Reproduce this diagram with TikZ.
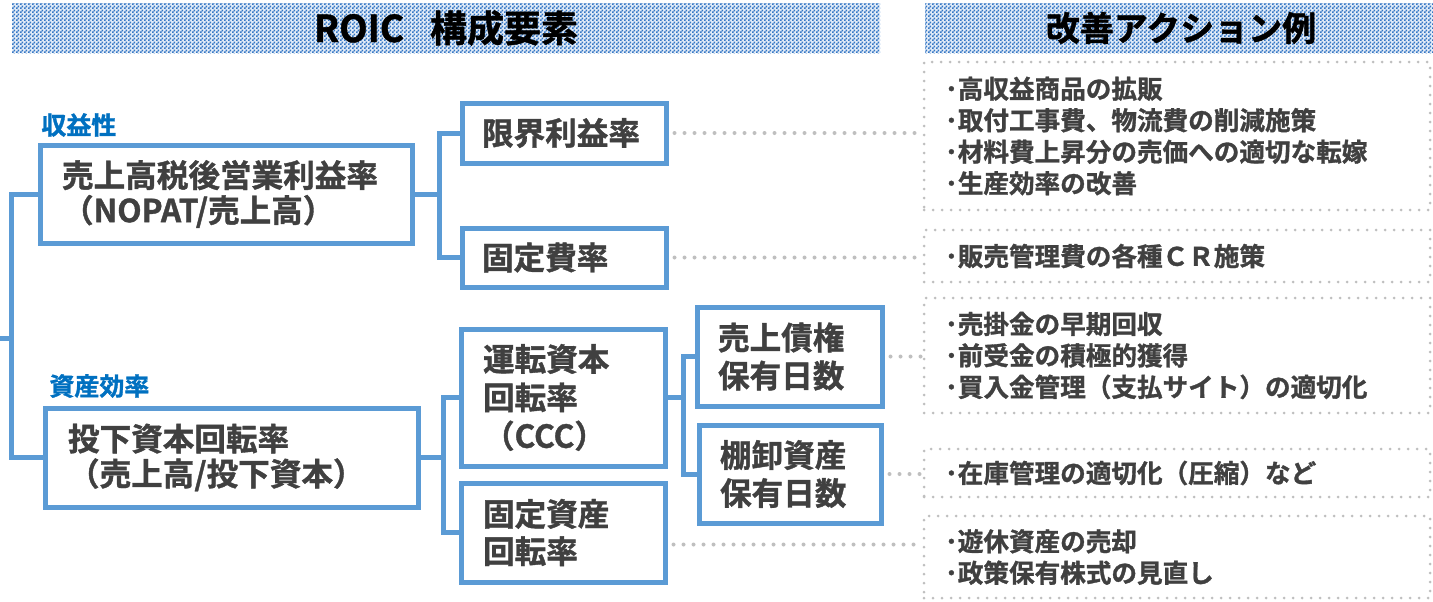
\documentclass[tikz,border=0pt]{standalone}
\usepackage{fontspec}
\setmainfont{Noto Sans CJK JP}[BoldFont={Noto Sans CJK JP Bold}, BoldFeatures={FakeBold=1.2}]
\usetikzlibrary{patterns}
\pgfdeclarepatternformonly{chk}{\pgfpointorigin}{\pgfpoint{2pt}{2pt}}{\pgfpoint{2pt}{2pt}}{%
 \pgfpathrectangle{\pgfpointorigin}{\pgfpoint{1pt}{1pt}}%
 \pgfpathrectangle{\pgfpoint{1pt}{1pt}}{\pgfpoint{1pt}{1pt}}%
 \pgfusepath{fill}}
\definecolor{boxblue}{RGB}{91,155,213}
\definecolor{labelblue}{RGB}{0,112,192}
\definecolor{textgray}{RGB}{64,64,64}
\definecolor{dotgray}{RGB}{191,191,191}
\definecolor{chkblue}{RGB}{52,118,196}
\definecolor{chkbase}{RGB}{225,235,247}
\tikzset{
 bbox/.style={draw=boxblue, line width=2.5pt, fill=white, align=left, inner ysep=0pt, text=textgray, font=\bfseries\fontsize{15.8pt}{17.5pt}\selectfont},
 conn/.style={draw=boxblue, line width=2.5pt},
 dotc/.style={draw=dotgray, line width=2pt, dash pattern=on 0pt off 5pt, line cap=round},
 actbox/.style={draw=dotgray, line width=1.5pt, dash pattern=on 0pt off 4.5pt, line cap=round, align=left, text=textgray, font=\bfseries\fontsize{12.8pt}{15.75pt}\selectfont, inner ysep=0pt, inner xsep=10.5pt, text width=232pt, minimum width=253pt},
 banner/.style={pattern=chk, pattern color=chkblue, draw=none},
 bantext/.style={font=\bfseries\fontsize{17pt}{19pt}\selectfont, text=black},
 lab/.style={font=\bfseries\fontsize{12.5pt}{14pt}\selectfont, text=labelblue, anchor=west, inner sep=0pt},
}
\begin{document}
\begin{tikzpicture}[x=0.5pt,y=-0.5pt]
\useasboundingbox (0,0) rectangle (1433,601);
% banners
\fill[chkbase] (12,3) rectangle (880,53);
\fill[chkbase] (925,3) rectangle (1433,53);
\path[banner] (12,3) rectangle (880,53);
\path[banner] (925,3) rectangle (1433,53);
\node[bantext, font=\bfseries\fontsize{18.5pt}{20pt}\selectfont] (t1) at (446,28) {ROIC\hspace{0.7em}構成要素};
\node[bantext] (t2) at (1181,28) {改善アクション例};
% labels
\node[lab] (l1) at (41,125) {収益性};
\node[lab] (l2) at (49,386) {資産効率};
% boxes
\node[bbox, text width=164pt, inner xsep=11pt, minimum height=49pt] (A) at (226,194) {売上高税後営業利益率\\（NOPAT/売上高）};
\node[bbox, text width=163.5pt, inner xsep=11.5pt, minimum height=49.5pt] (B) at (231.5,457.5) {投下資本回転率\\（売上高/投下資本）};
\node[bbox, text width=82pt, inner xsep=10pt, minimum height=30pt] (C) at (564,133) {限界利益率};
\node[bbox, text width=82pt, inner xsep=10pt, minimum height=29.5pt] (D) at (564,257.5) {固定費率};
\node[bbox, text width=80pt, inner xsep=11pt, minimum height=68.5pt, font=\bfseries\fontsize{15.8pt}{19.2pt}\selectfont] (E) at (563,397.5) {運転資本\\回転率\\（CCC）};
\node[bbox, text width=80pt, inner xsep=11pt, minimum height=49.5pt, font=\bfseries\fontsize{15.8pt}{18.7pt}\selectfont] (F) at (563,532.5) {固定資産\\回転率};
\node[bbox, text width=71.5pt, inner xsep=10.5pt, minimum height=49.5pt, font=\bfseries\fontsize{15.8pt}{19pt}\selectfont] (G) at (789.5,356.5) {売上債権\\保有日数};
\node[bbox, text width=70pt, inner xsep=10.5pt, minimum height=49pt, font=\bfseries\fontsize{15.8pt}{19pt}\selectfont] (H) at (790,474) {棚卸資産\\保有日数};
% action boxes
\node[actbox, minimum height=74pt] (a1) at (1177,136) {･高収益商品の拡販\\･取付工事費、物流費の削減施策\\･材料費上昇分の売価への適切な転嫁\\･生産効率の改善};
\node[actbox, minimum height=26pt] (a2) at (1177,256) {･販売管理費の各種ＣＲ施策};
\node[actbox, minimum height=57.5pt] (a3) at (1177,355.5) {･売掛金の早期回収\\･前受金の積極的獲得\\･買入金管理（支払サイト）の適切化};
\node[actbox, minimum height=24pt] (a4) at (1177,473) {･在庫管理の適切化（圧縮）など};
\node[actbox, minimum height=41pt] (a5) at (1177,557) {･遊休資産の売却\\･政策保有株式の見直し};
% tree connectors
\coordinate (root) at (0,338);
\coordinate (rj) at (11,338);
\draw[conn] (root) -- (rj);
\draw[conn] (rj) |- (A.west);
\draw[conn] (rj) |- (B.west);
\coordinate (aj) at ([xshift=12.5pt]A.east);
\draw[conn] (A.east) -- (aj);
\draw[conn] (aj) |- (C.west);
\draw[conn] (aj) |- (D.west);
\coordinate (bj) at ([xshift=11.5pt]B.east);
\draw[conn] (B.east) -- (bj);
\draw[conn] (bj) |- (E.west);
\draw[conn] (bj) |- (F.west);
\coordinate (ej) at ([xshift=8pt]E.east);
\draw[conn] (E.east) -- (ej);
\draw[conn] (ej) |- (G.west);
\draw[conn] (ej) |- (H.west);
% dotted connectors
\draw[dotc] ([xshift=3pt]C.east) -- (C.east -| a1.west);
\draw[dotc] ([xshift=3pt]D.east) -- (D.east -| a2.west);
\draw[dotc] ([xshift=3pt]G.east) -- (G.east -| a3.west);
\draw[dotc] ([xshift=3pt]H.east) -- (H.east -| a4.west);
\coordinate (fo) at ([xshift=3pt,yshift=-6pt]F.east);
\draw[dotc] (fo) -- (fo -| a5.west);
\end{tikzpicture}
\end{document}
